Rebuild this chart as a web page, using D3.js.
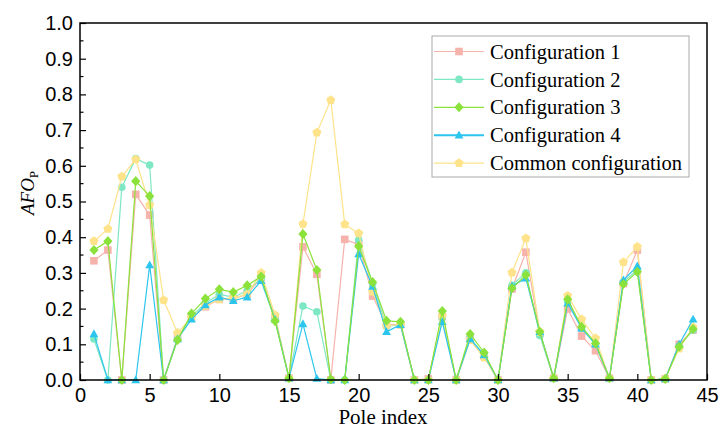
<!DOCTYPE html>
<html>
<head>
<meta charset="utf-8">
<script src="https://cdn.jsdelivr.net/npm/d3@7"></script>
<style>
  body { margin: 0; background: #fff; }
  svg { font-family: "Liberation Serif", "Times New Roman", serif; }
</style>
</head>
<body>
<svg id="chart" width="720" height="430"></svg>
<script>
const poles = [1,2,3,4,5,6,7,8,9,10,11,12,13,14,15,16,17,18,19,20,21,22,
  23,24,25,26,27,28,29,30,31,32,33,34,35,36,37,38,39,40,41,42,43,44];

const config1 = [0.334,0.364,0.0,0.52,0.462,0.0,0.12,0.175,0.205,0.226,0.228,0.24,0.287,0.175,0.005,
  0.373,0.296,0.0,0.394,0.38,0.235,0.155,0.155,0.0,0.003,0.178,0.0,0.115,0.068,0.0,0.255,0.358,
  0.13,0.005,0.199,0.123,0.082,0.005,0.27,0.364,0.0,0.003,0.1,0.14];
const config2 = [0.115,0.0,0.54,0.62,0.602,0.0,0.115,0.178,0.215,0.24,0.232,0.25,0.285,0.17,0.005,
  0.207,0.191,0.0,0.0,0.392,0.27,0.15,0.155,0.0,0.0,0.175,0.0,0.118,0.07,0.0,0.265,0.3,
  0.125,0.005,0.22,0.145,0.1,0.005,0.275,0.308,0.0,0.003,0.095,0.14];
const config3 = [0.364,0.389,0.0,0.557,0.515,0.0,0.112,0.186,0.228,0.254,0.246,0.265,0.29,0.165,0.005,
  0.409,0.308,0.002,0.0,0.375,0.274,0.166,0.163,0.0,0.0,0.193,0.0,0.129,0.077,0.0,0.257,0.294,
  0.135,0.005,0.226,0.149,0.103,0.005,0.269,0.303,0.0,0.003,0.093,0.143];
const config4 = [0.129,0.0,0.0,0.0,0.322,0.0,0.115,0.17,0.21,0.232,0.222,0.232,0.278,0.17,0.005,
  0.157,0.004,0.0,0.0,0.353,0.262,0.135,0.155,0.0,0.0,0.163,0.0,0.115,0.07,0.0,0.263,0.285,
  0.135,0.005,0.215,0.145,0.1,0.005,0.28,0.319,0.0,0.003,0.1,0.17];
const common = [0.389,0.423,0.57,0.618,0.49,0.224,0.132,0.175,0.208,0.226,0.23,0.24,0.3,0.182,0.005,
  0.437,0.693,0.784,0.436,0.411,0.247,0.152,0.155,0.0,0.0,0.18,0.0,0.112,0.063,0.0,0.301,0.397,
  0.135,0.005,0.236,0.17,0.117,0.005,0.33,0.373,0.0,0.003,0.088,0.148];

const xTicks = [0,5,10,15,20,25,30,35,40,45];
const yTicks = [0.0,0.1,0.2,0.3,0.4,0.5,0.6,0.7,0.8,0.9,1.0];

// custom marker shapes (size = half width)
const shapes = {
  square: { draw(ctx, r) { ctx.rect(-r, -r, 2*r, 2*r); } },
  circle: { draw(ctx, r) { ctx.moveTo(r, 0); ctx.arc(0, 0, r, 0, 2*Math.PI); } },
  diamond: { draw(ctx, r) { ctx.moveTo(0,-r*1.1); ctx.lineTo(r,0); ctx.lineTo(0,r*1.1); ctx.lineTo(-r,0); ctx.closePath(); } },
  triangle: { draw(ctx, r) { ctx.moveTo(0,-r*1.05); ctx.lineTo(r,r*0.75); ctx.lineTo(-r,r*0.75); ctx.closePath(); } },
  pentagon: { draw(ctx, r) {
    for (let i = 0; i < 5; i++) {
      const a = -Math.PI/2 + i*2*Math.PI/5;
      if (i === 0) ctx.moveTo(r*Math.cos(a), r*Math.sin(a)); else ctx.lineTo(r*Math.cos(a), r*Math.sin(a));
    }
    ctx.closePath();
  } }
};

const series = [
  { name: "Configuration 1", values: config1, color: "#f6b3ab", shape: "square", r: 3.8, order: 0 },
  { name: "Configuration 2", values: config2, color: "#7de8c3", shape: "circle", r: 3.8, order: 1 },
  { name: "Configuration 3", values: config3, color: "#8ae23a", shape: "diamond", r: 4.6, order: 4 },
  { name: "Configuration 4", values: config4, color: "#2cc5ee", shape: "triangle", r: 4.4, order: 3 },
  { name: "Common configuration", values: common, color: "#fee38b", shape: "pentagon", r: 4.8, order: 2 }
];

const svg = d3.select("#chart");
const margin = { top: 23, right: 13, bottom: 50, left: 80 };
const W = 720 - margin.left - margin.right;
const H = 430 - margin.top - margin.bottom;

const x = d3.scaleLinear().domain([0, 45]).range([0, W]);
const y = d3.scaleLinear().domain([0, 1]).range([H, 0]);

const g = svg.append("g").attr("transform", `translate(${margin.left},${margin.top})`);

// data
const line = d3.line().x((d, i) => x(poles[i])).y(d => y(d));
const drawOrder = series.slice().sort((a, b) => a.order - b.order);
drawOrder.forEach(s => {
  const sg = g.append("g");
  sg.append("path")
    .datum(s.values)
    .attr("d", line)
    .attr("fill", "none")
    .attr("stroke", s.color)
    .attr("stroke-width", 1.2);
  sg.selectAll("path.mk")
    .data(s.values)
    .enter()
    .append("path")
    .attr("class", "mk")
    .attr("transform", (d, i) => `translate(${x(poles[i])},${y(d)})`)
    .attr("d", d3.symbol().type(shapes[s.shape]).size(s.r))
    .attr("fill", s.color);
});

// axes
const xAxis = g.append("g")
  .attr("transform", `translate(0,${H})`)
  .call(d3.axisBottom(x).tickValues(xTicks).tickFormat(d3.format("d")).tickSize(-6).tickPadding(6));
const yAxis = g.append("g")
  .call(d3.axisLeft(y).tickValues(yTicks).tickFormat(d3.format(".1f")).tickSize(-6).tickPadding(7));

// minor ticks on y
g.append("g")
  .selectAll("line")
  .data([0.05,0.15,0.25,0.35,0.45,0.55,0.65,0.75,0.85,0.95])
  .enter()
  .append("line")
  .attr("x1", 0).attr("x2", 3.5)
  .attr("y1", d => y(d)).attr("y2", d => y(d))
  .attr("stroke", "#000").attr("stroke-width", 1.2);

[xAxis, yAxis].forEach(a => {
  a.select(".domain").remove();
  a.selectAll(".tick line").attr("stroke-width", 1.2);
  a.selectAll(".tick text").style("font-size", "20px").attr("fill", "#000");
});
xAxis.selectAll(".tick text").attr("dy", "0.8em");

// frame
g.append("rect")
  .attr("width", W).attr("height", H)
  .attr("fill", "none").attr("stroke", "#000").attr("stroke-width", 1.5);

// axis titles
svg.append("text")
  .attr("x", 383)
  .attr("y", 424)
  .attr("text-anchor", "middle")
  .style("font-size", "21px")
  .text("Pole index");

const yl = svg.append("text")
  .attr("transform", "translate(34,193) rotate(-90)")
  .attr("text-anchor", "middle")
  .style("font-size", "19px");
yl.append("tspan").style("font-style", "italic").text("AFO");
yl.append("tspan").attr("dy", 4).style("font-size", "13px").text("P");

// legend
const lg = svg.append("g").attr("transform", "translate(432,36)");
lg.append("rect")
  .attr("width", 257).attr("height", 141)
  .attr("fill", "#fff").attr("stroke", "#aaa").attr("stroke-width", 1);
series.forEach((s, i) => {
  const ly = 15.5 + i * 27.9;
  lg.append("line")
    .attr("x1", 2).attr("x2", 52).attr("y1", ly).attr("y2", ly)
    .attr("stroke", s.color).attr("stroke-width", s.shape === "triangle" ? 2 : 1.2);
  lg.append("path")
    .attr("transform", `translate(27,${ly})`)
    .attr("d", d3.symbol().type(shapes[s.shape]).size(s.r))
    .attr("fill", s.color);
  lg.append("text")
    .attr("x", 58).attr("y", ly)
    .attr("dy", "0.35em")
    .style("font-size", "20.5px")
    .text(s.name);
});
</script>
</body>
</html>
